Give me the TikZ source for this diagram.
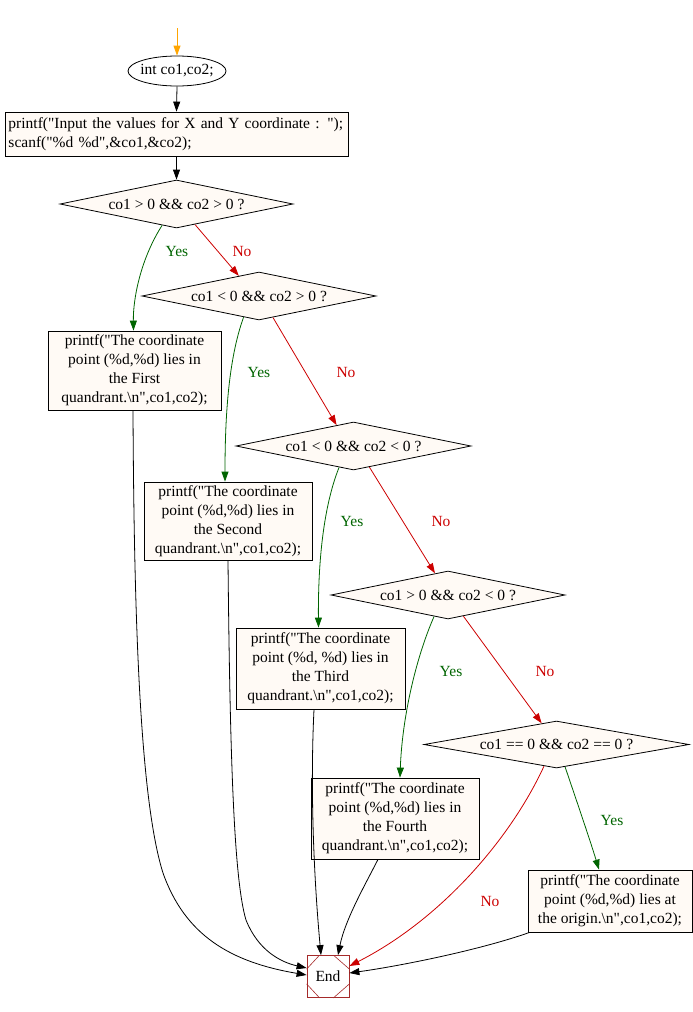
\documentclass[tikz,border=0pt]{standalone}
\usepackage{fontspec}
\setmainfont{Liberation Serif}[Ligatures=TeXOff]
\usetikzlibrary{arrows.meta,shapes.geometric,calc}
\definecolor{boxfill}{HTML}{FFFAF5}
\definecolor{yesgreen}{HTML}{006400}
\definecolor{nored}{HTML}{CC0000}
\definecolor{endbrown}{HTML}{A52A2A}
\definecolor{startorange}{HTML}{FFA500}
\begin{document}
\begin{tikzpicture}[x=1pt,y=-1pt,
  font=\fontsize{15.5}{19}\selectfont,
  line width=0.8pt,
  >={Triangle[length=10pt,width=7pt]},
  procbox/.style={draw,fill=boxfill,rectangle,inner sep=2pt,align=center},
  decision/.style={draw,fill=boxfill,diamond,inner sep=0pt,aspect=4.8},
  edge/.style={->,draw=black},
  yesedge/.style={->,draw=yesgreen,color=yesgreen},
  noedge/.style={->,draw=nored,color=nored},
  yeslbl/.style={text=yesgreen},
  nolbl/.style={text=nored}]
\useasboundingbox (0,0) rectangle (693,1012);

\coordinate (start) at (177,28);
\node[draw,ellipse,fill=white,minimum width=98pt,minimum height=30pt,inner sep=0pt] (init) at (177,71) {\makebox[56pt]{int co1,co2;}};
\node[procbox,minimum width=343pt,minimum height=44pt,text width=336pt,align=left] (input) at (176.5,134)
  {printf("Input the values for X and Y coordinate : ");\\scanf("\%d \%d",\&co1,\&co2);};

\node[decision,minimum width=233pt,minimum height=48pt] (d1) at (176.5,204) {co1 > 0 \&\& co2 > 0 ?};
\node[decision,minimum width=234pt,minimum height=48pt] (d2) at (259,296) {co1 < 0 \&\& co2 > 0 ?};
\node[decision,minimum width=235pt,minimum height=48pt] (d3) at (353.5,446) {co1 < 0 \&\& co2 < 0 ?};
\node[decision,minimum width=234pt,minimum height=48pt] (d4) at (448,595) {co1 > 0 \&\& co2 < 0 ?};
\node[decision,minimum width=265pt,minimum height=47pt] (d5) at (556.5,744.5) {co1 == 0 \&\& co2 == 0 ?};

\node[procbox,minimum width=173pt,minimum height=79pt] (first) at (134.5,370.5)
  {printf("The coordinate\\point (\%d,\%d) lies in\\the First\\quandrant.\textbackslash n",co1,co2);};
\node[procbox,minimum width=168pt,minimum height=78pt] (second) at (228,521)
  {printf("The coordinate\\point (\%d,\%d) lies in\\the Second\\quandrant.\textbackslash n",co1,co2);};
\node[procbox,minimum width=169pt,minimum height=81pt] (third) at (320.5,668.5)
  {printf("The coordinate\\point (\%d, \%d) lies in\\the Third\\quandrant.\textbackslash n",co1,co2);};
\node[procbox,minimum width=168pt,minimum height=81pt] (fourth) at (395,818.5)
  {printf("The coordinate\\point (\%d,\%d) lies in\\the Fourth\\quandrant.\textbackslash n",co1,co2);};
\node[procbox,minimum width=164pt,minimum height=62pt] (origin) at (610,901)
  {printf("The coordinate\\point (\%d,\%d) lies at\\the origin.\textbackslash n",co1,co2);};

\node[draw=endbrown,rectangle,minimum width=42pt,minimum height=42pt,inner sep=0pt] (End) at (328,976.5) {End};
\draw[endbrown,line width=0.6pt]
  ($(End.north west)+(13,0)$) -- ($(End.north west)+(0,14)$)
  ($(End.north east)+(-16,0)$) -- ($(End.north east)+(0,14)$)
  ($(End.south west)+(0,-14)$) -- ($(End.south west)+(13,0)$)
  ($(End.south east)+(0,-14)$) -- ($(End.south east)+(-16,0)$);

% main flow
\draw[->,draw=startorange,color=startorange] (start) -- (init.north);
\draw[edge] (init.south) -- (input.north);
\draw[edge] (input.south) -- (d1.north);

% yes / no
\draw[yesedge] (d1.-124) .. controls (140,260) and (133,300) .. ($(first.north)+(-1,0)$);
\draw[noedge] (d1.-48) -- (d2.135);
\draw[yesedge] (d2.-126) .. controls (228,360) and (225,420) .. ($(second.north)+(-3,0)$);
\draw[noedge] (d2.-57) -- (d3.129);
\draw[yesedge] (d3.-124) .. controls (322,510) and (318,570) .. ($(third.north)+(-2,0)$);
\draw[noedge] (d3.-53) -- (d4.121);
\draw[yesedge] (d4.-123) .. controls (415,660) and (402,720) .. ($(fourth.north)+(5,0)$);
\draw[noedge] (d4.-54) -- (d5.125);
\draw[yesedge] (d5.-69) .. controls (578,805) and (590,840) .. ($(origin.north)+(-11,0)$);
\draw[noedge] (d5.-120) .. controls (510,840) and (440,920) .. ($(End.east)+(0,-10.5)$);

% to End
\draw[edge] ($(first.south)+(-1.5,0)$) .. controls (134,620) and (140,800) .. (163,873)
  .. controls (185,935) and (230,962) .. ($(End.west)+(0,-1.5)$);
\draw[edge] (second.south) .. controls (230,760) and (234,880) .. (246,920)
  .. controls (258,950) and (280,962) .. ($(End.west)+(0,-8.5)$);
\draw[edge] ($(third.south)+(-6.5,0)$) .. controls (310,790) and (314,880) .. ($(End.north)+(-7,0)$);
\draw[edge] ($(fourth.south)+(-17,0)$) .. controls (365,885) and (345,920) .. ($(End.north)+(10,0)$);
\draw[edge] ($(origin.south west)+(2,0)$) .. controls (480,950) and (400,966) .. ($(End.east)+(0,-3.5)$);

% labels
\node[yeslbl] (y1) at (177,251) {Yes};
\node[nolbl] (n1) at (242,251) {No};
\node[yeslbl] (y2) at (259,372) {Yes};
\node[nolbl] (n2) at (346,372) {No};
\node[yeslbl] (y3) at (352,521) {Yes};
\node[nolbl] (n3) at (441,521) {No};
\node[yeslbl] (y4) at (451,671) {Yes};
\node[nolbl] (n4) at (545,671) {No};
\node[yeslbl] (y5) at (612,820) {Yes};
\node[nolbl] (n5) at (490,901) {No};
\end{tikzpicture}
\end{document}
